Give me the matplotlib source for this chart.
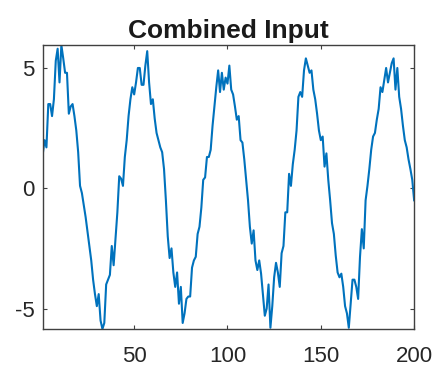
import numpy as np
import matplotlib
matplotlib.use("Agg")
import matplotlib.pyplot as plt

### Values, one per sample (1..200)
SAMPLES = np.arange(1, 201)
SIGNAL = [
    1.4, 2.0, 1.7, 3.5, 3.5, 3.0, 3.7, 5.3, 5.8, 4.4,
    5.95, 5.4, 4.8, 4.8, 3.1, 3.4, 3.5, 3.0, 2.4, 1.5,
    0.1, -0.2, -0.7, -1.2, -1.8, -2.4, -3.0, -3.8, -4.4, -4.9,
    -4.4, -5.5, -5.85, -5.6, -4.0, -3.8, -3.6, -2.4, -3.2, -2.1,
    -1.0, 0.5, 0.4, 0.1, 1.3, 2.0, 3.0, 3.7, 4.2, 3.9,
    4.4, 5.0, 5.0, 4.3, 4.3, 5.1, 5.7, 4.4, 3.5, 3.7,
    2.9, 2.3, 2.0, 1.7, 1.5, 0.8, -0.5, -2.0, -2.9, -2.5,
    -3.5, -4.1, -3.5, -4.8, -4.1, -5.6, -5.2, -4.6, -4.5, -4.5,
    -3.3, -3.0, -2.85, -1.9, -1.6, -0.8, 0.35, 0.45, 1.3, 1.3,
    1.6, 2.6, 3.4, 4.2, 4.9, 4.0, 4.8, 4.1, 4.6, 4.35,
    5.1, 4.1, 3.9, 3.4, 2.85, 3.0, 2.0, 1.9, 1.2, 0.35,
    -0.5, -1.6, -2.3, -1.75, -3.0, -3.4, -3.0, -3.55, -4.4, -5.3,
    -5.0, -4.0, -5.8, -4.9, -3.7, -3.1, -3.5, -4.1, -2.7, -2.4,
    -1.0, -1.0, 0.6, 0.1, 1.0, 1.6, 2.4, 3.8, 4.0, 3.8,
    4.9, 5.4, 5.1, 4.8, 4.9, 4.1, 3.7, 3.1, 2.4, 2.0,
    2.15, 0.9, 1.45, 0.35, -0.5, -1.45, -1.9, -2.8, -3.5, -3.7,
    -3.55, -4.1, -4.9, -5.2, -5.8, -4.8, -3.8, -3.8, -4.1, -4.6,
    -2.85, -1.7, -2.5, -0.5, 0.1, 0.8, 1.6, 2.15, 2.3, 2.85,
    3.3, 4.2, 4.0, 4.5, 5.0, 4.4, 4.8, 5.2, 5.4, 4.1,
    5.0, 3.8, 3.3, 2.6, 2.0, 1.7, 1.2, 0.8, 0.35, -0.5,
]
X_TICKS = [50, 100, 150, 200]
Y_TICKS = [-5, 0, 5]

plt.rcParams["font.family"] = ["Liberation Sans", "DejaVu Sans"]
plt.rcParams["axes.unicode_minus"] = False

fig = plt.figure(figsize=(4.38, 3.73), dpi=100)
ax = fig.add_axes([0.0975, 0.118, 0.848, 0.761])

ax.plot(SAMPLES, SIGNAL, color="#0072BD", lw=1.5)

# Tight limits like MATLAB's axis tight
ax.set_xlim(SAMPLES[0], SAMPLES[-1])
ax.set_ylim(min(SIGNAL), max(SIGNAL))
ax.set_xticks(X_TICKS)
ax.set_yticks(Y_TICKS)

ax.set_title("Combined Input", fontsize=19, fontweight="bold", color="#1a1a1a", pad=5)

for spine in ax.spines.values():
    spine.set_color("#404040")
    spine.set_linewidth(1.0)

ax.tick_params(axis="both", direction="in", length=3, width=0.8, colors="#404040",
               labelcolor="#262626", labelsize=16, top=True, right=True)
ax.tick_params(axis="x", pad=12)
ax.tick_params(axis="y", pad=6)

fig.savefig("out.png", dpi=100)
